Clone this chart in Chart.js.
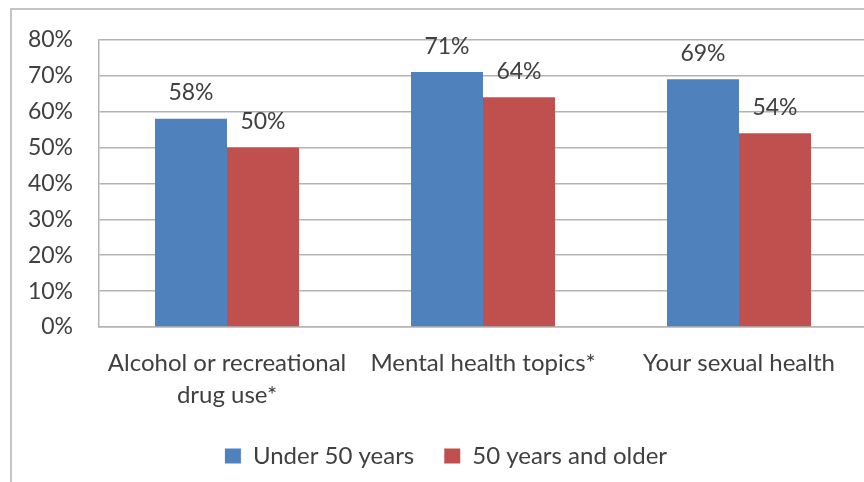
<!DOCTYPE html>
<html>
<head>
  <title>Health topics by age group</title>
  <meta charset="UTF-8" />
  <script src="https://cdn.jsdelivr.net/npm/chart.js"></script>
  <style>
    html, body { margin: 0; padding: 0; background: #fff; overflow: hidden; }
    .frame {
      position: absolute;
      left: 10px;
      top: 8px;
      width: 1200px;
      height: 800px;
      border: 2px solid #c4c4c4;
    }
    .wrap {
      position: absolute;
      left: 0;
      top: 0;
      width: 894px;
      height: 482px;
    }
  </style>
</head>
<body>
  <div class="frame"></div>
  <div class="wrap"><canvas id="topicsChart"></canvas></div>

  <script>
    const categories = [
      ['Alcohol or recreational', 'drug use*'],
      'Mental health topics*',
      'Your sexual health'
    ];
    const under50 = [58, 71, 69];
    const over50 = [50, 64, 54];
    const seriesNames = ['Under 50 years', '50 years and older'];
    const yTicks = [0, 10, 20, 30, 40, 50, 60, 70, 80];

    const textColor = '#404040';
    const fontFamily = 'Lato, "Open Sans", sans-serif';

    // value labels above each bar
    const valueLabels = {
      id: 'valueLabels',
      afterDatasetsDraw(chart) {
        const ctx = chart.ctx;
        ctx.save();
        ctx.font = '23px ' + fontFamily;
        ctx.fillStyle = textColor;
        ctx.textAlign = 'center';
        ctx.textBaseline = 'middle';
        chart.data.datasets.forEach((ds, i) => {
          chart.getDatasetMeta(i).data.forEach((bar, j) => {
            ctx.fillText(ds.data[j] + '%', bar.x, bar.y - 26);
          });
        });
        ctx.restore();
      }
    };

    new Chart(document.getElementById('topicsChart'), {
      type: 'bar',
      data: {
        labels: categories,
        datasets: [
          { label: seriesNames[0], data: under50, backgroundColor: '#4f81bd' },
          { label: seriesNames[1], data: over50, backgroundColor: '#c0504d' }
        ]
      },
      options: {
        responsive: true,
        maintainAspectRatio: false,
        animation: false,
        categoryPercentage: 0.5625,
        barPercentage: 1,
        layout: { padding: { top: 39, right: 27, bottom: 4, left: 25 } },
        plugins: {
          tooltip: { enabled: false },
          legend: {
            position: 'bottom',
            labels: {
              color: textColor,
              font: { family: fontFamily, size: 24 },
              boxWidth: 16,
              boxHeight: 15,
              padding: 30
            }
          }
        },
        scales: {
          x: {
            grid: { display: false, drawTicks: false },
            border: { color: '#b3b3b3', width: 1.5 },
            ticks: {
              color: textColor,
              font: { family: fontFamily, size: 24, lineHeight: 1.3 },
              padding: 21,
              maxRotation: 0,
              autoSkip: false
            },
            afterFit(scale) { scale.height = 87; }
          },
          y: {
            min: 0,
            max: 80,
            afterBuildTicks(scale) {
              scale.ticks = yTicks.map(v => ({ value: v }));
            },
            grid: { color: '#b3b3b3', lineWidth: 1.5, drawTicks: false },
            border: { color: '#b3b3b3', width: 1.5 },
            ticks: {
              color: textColor,
              font: { family: fontFamily, size: 23 },
              padding: 26,
              callback: v => v + '%'
            },
            afterFit(scale) { scale.width = 74; }
          }
        }
      },
      plugins: [valueLabels]
    });
  </script>
</body>
</html>
